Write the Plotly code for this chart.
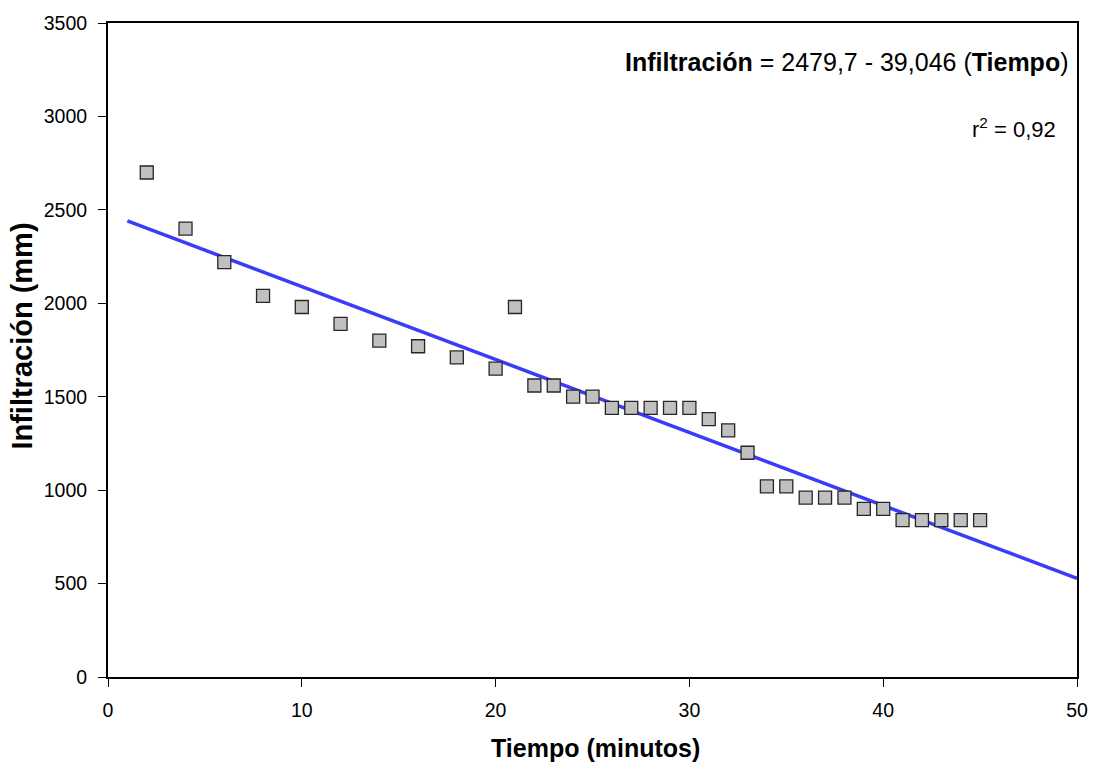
import plotly.graph_objects as go

tiempo = [2, 4, 6, 8, 10, 12, 14, 16, 18, 20, 21, 22, 23, 24, 25, 26, 27, 28, 29, 30,
          31, 32, 33, 34, 35, 36, 37, 38, 39, 40, 41, 42, 43, 44, 45]
infiltracion = [2700, 2400, 2220, 2040, 1980, 1890, 1800, 1770, 1710, 1650, 1980, 1560, 1560,
                1500, 1500, 1440, 1440, 1440, 1440, 1440, 1380, 1320, 1200, 1020, 1020,
                960, 960, 960, 900, 900, 840, 840, 840, 840, 840]
intercepto = 2479.7
pendiente = -39.046
linea_x = [1, 50]
linea_y = [intercepto + pendiente * x for x in linea_x]
x_ticks = [0, 10, 20, 30, 40, 50]
y_ticks = [0, 500, 1000, 1500, 2000, 2500, 3000, 3500]

font = "Liberation Sans, Arial, sans-serif"

fig = go.Figure()
fig.add_trace(go.Scatter(x=linea_x, y=linea_y, mode="lines",
                         line=dict(color="#3c3cf8", width=3.5), showlegend=False))
fig.add_trace(go.Scatter(x=tiempo, y=infiltracion, mode="markers",
                         marker=dict(symbol="square", size=13, color="#c0c0c0",
                                     line=dict(color="#262626", width=1.3)),
                         showlegend=False))

axis_common = dict(showgrid=False, zeroline=False, showline=True, linecolor="black",
                   linewidth=2, mirror=True, ticks="outside", ticklen=8, tickwidth=1.3,
                   tickcolor="black", tickfont=dict(size=19.5), ticklabelstandoff=7)

fig.update_layout(
    width=1100, height=763,
    margin=dict(l=108, r=14, t=21, b=86),
    plot_bgcolor="white", paper_bgcolor="white",
    font=dict(family=font, size=19, color="black"),
    xaxis=dict(range=[0, 50], tickvals=x_ticks, **axis_common),
    yaxis=dict(range=[0, 3500], tickvals=y_ticks, **axis_common),
    annotations=[
        dict(xref="paper", yref="paper", x=-0.0884, y=0.521, xanchor="center", yanchor="middle",
             text="<b>Infiltración (mm)</b>", textangle=-90, showarrow=False,
             font=dict(size=29)),
        dict(xref="paper", yref="paper", x=0.503, y=-0.108, xanchor="center", yanchor="middle",
             text="<b>Tiempo (minutos)</b>", showarrow=False, font=dict(size=25)),
        dict(xref="paper", yref="paper", x=0.9939, y=0.941, xanchor="right", yanchor="middle",
             text="<b>Infiltración</b> = 2479,7 - 39,046 (<b>Tiempo</b>)", showarrow=False,
             font=dict(size=25)),
        dict(xref="paper", yref="paper", x=0.9806, y=0.8395, xanchor="right", yanchor="middle",
             text="r<sup>2</sup> = 0,92", showarrow=False, font=dict(size=22)),
    ],
)

fig.write_html("out.html")
